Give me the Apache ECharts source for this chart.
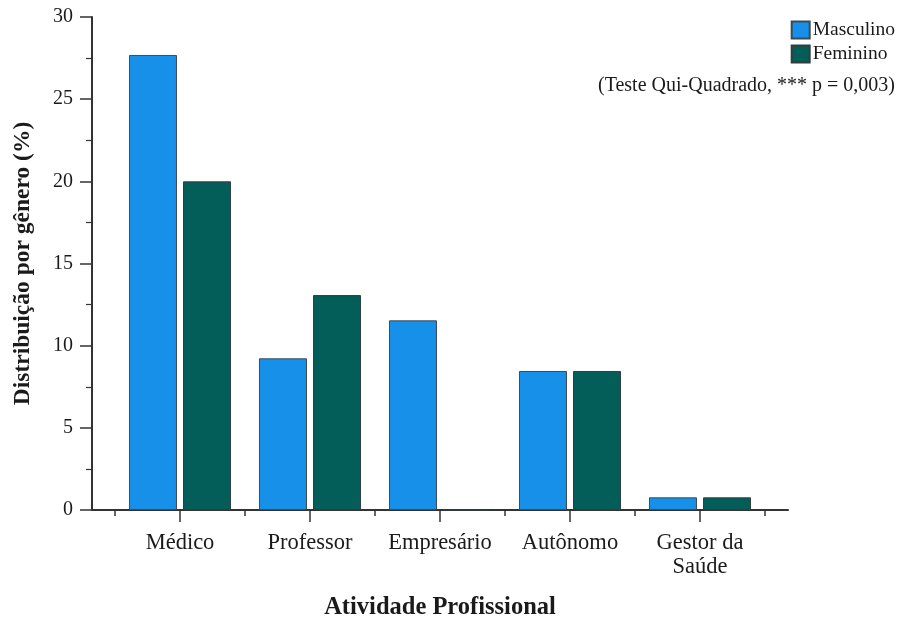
<!DOCTYPE html>
<html>
<head>
<meta charset="utf-8">
<script src="https://cdn.jsdelivr.net/npm/echarts@6/dist/echarts.min.js"></script>
<style>
  html, body { margin: 0; padding: 0; background: #fff; }
  #chart { width: 898px; height: 619px; }
</style>
</head>
<body>
<div id="chart"></div>
<script>
// Distribuição por gênero de cada atividade profissional (%)
const categories = ['Médico', 'Professor', 'Empresário', 'Autônomo', 'Gestor da\nSaúde'];
const masculino = [27.69, 9.23, 11.54, 8.46, 0.77];
const feminino  = [20.00, 13.08, 0.00, 8.46, 0.77];
const yTicks = { min: 0, max: 30, interval: 5 };

const FONT = '"Liberation Serif", "DejaVu Serif", serif';
const AXIS = '#333';
const TEXT = '#1a1a1a';

const chart = echarts.init(document.getElementById('chart'), null, { renderer: 'canvas' });

chart.setOption({
  animation: false,
  backgroundColor: '#fff',
  title: {
    text: '(Teste Qui-Quadrado, *** p = 0,003)',
    right: 3,
    top: 76,
    padding: 0,
    textStyle: { fontFamily: FONT, fontSize: 20, fontWeight: 'normal', color: TEXT }
  },
  legend: {
    orient: 'vertical',
    right: 3,
    top: 20,
    padding: 0,
    itemWidth: 18,
    itemHeight: 17,
    itemGap: 4,
    icon: 'rect',
    align: 'left',
    textStyle: { fontFamily: FONT, fontSize: 19.5, color: TEXT, padding: [0, 0, 0, -2] },
    data: ['Masculino', 'Feminino']
  },
  grid: [
    // bars
    { left: 115, right: 133, top: 17, bottom: 109, outerBoundsMode: 'none', containLabel: false },
    // frame carrying the y axis and the full-width baseline
    { left: 92, right: 110, top: 17, bottom: 109, outerBoundsMode: 'none', containLabel: false }
  ],
  xAxis: [
    {
      type: 'category',
      gridIndex: 0,
      position: 'bottom',
      data: categories,
      axisLine: { show: false },
      axisTick: { show: true, length: 6, lineStyle: { color: AXIS, width: 1.5 } },
      axisLabel: {
        interval: 0,
        margin: 21,
        fontFamily: FONT, fontSize: 22.5, color: TEXT, lineHeight: 24
      },
      name: 'Atividade Profissional',
      nameLocation: 'middle',
      nameGap: 85,
      nameTextStyle: { fontFamily: FONT, fontSize: 24.5, fontWeight: 'bold', color: TEXT }
    },
    {
      type: 'category',
      gridIndex: 0,
      position: 'bottom',
      data: categories,
      axisLine: { show: false },
      axisTick: { show: true, interval: 0, alignWithLabel: true, length: 12, lineStyle: { color: AXIS, width: 1.5 } },
      axisLabel: { show: false }
    },
    {
      type: 'value',
      gridIndex: 1,
      position: 'bottom',
      min: 0, max: 1,
      axisLine: { show: true, lineStyle: { color: AXIS, width: 2 } },
      axisTick: { show: false },
      axisLabel: { show: false },
      splitLine: { show: false }
    }
  ],
  yAxis: [
    {
      type: 'value',
      gridIndex: 1,
      min: yTicks.min, max: yTicks.max, interval: yTicks.interval,
      axisLine: { show: true, lineStyle: { color: AXIS, width: 2 } },
      axisTick: { show: true, length: 12, lineStyle: { color: AXIS, width: 1.5 } },
      minorTick: { show: true, splitNumber: 2, length: 6, lineStyle: { color: AXIS, width: 1.2 } },
      axisLabel: { margin: 19, padding: [3, 0, 0, 0], fontFamily: FONT, fontSize: 20, color: TEXT },
      splitLine: { show: false },
      name: 'Distribuição por gênero (%)',
      nameLocation: 'middle',
      nameGap: 57,
      nameTextStyle: { fontFamily: FONT, fontSize: 23.5, fontWeight: 'bold', color: TEXT }
    },
    {
      type: 'value',
      gridIndex: 0,
      min: yTicks.min, max: yTicks.max, interval: yTicks.interval,
      show: false
    }
  ],
  series: [
    {
      name: 'Masculino',
      type: 'bar',
      xAxisIndex: 0,
      yAxisIndex: 1,
      data: masculino,
      barCategoryGap: '21.5%',
      barGap: '12.5%',
      itemStyle: { color: '#1690e8', borderColor: '#3c4a55', borderWidth: 1 }
    },
    {
      name: 'Feminino',
      type: 'bar',
      xAxisIndex: 0,
      yAxisIndex: 1,
      data: feminino,
      itemStyle: { color: '#035d58', borderColor: '#2f3f3f', borderWidth: 1 }
    }
  ]
});
</script>
</body>
</html>
